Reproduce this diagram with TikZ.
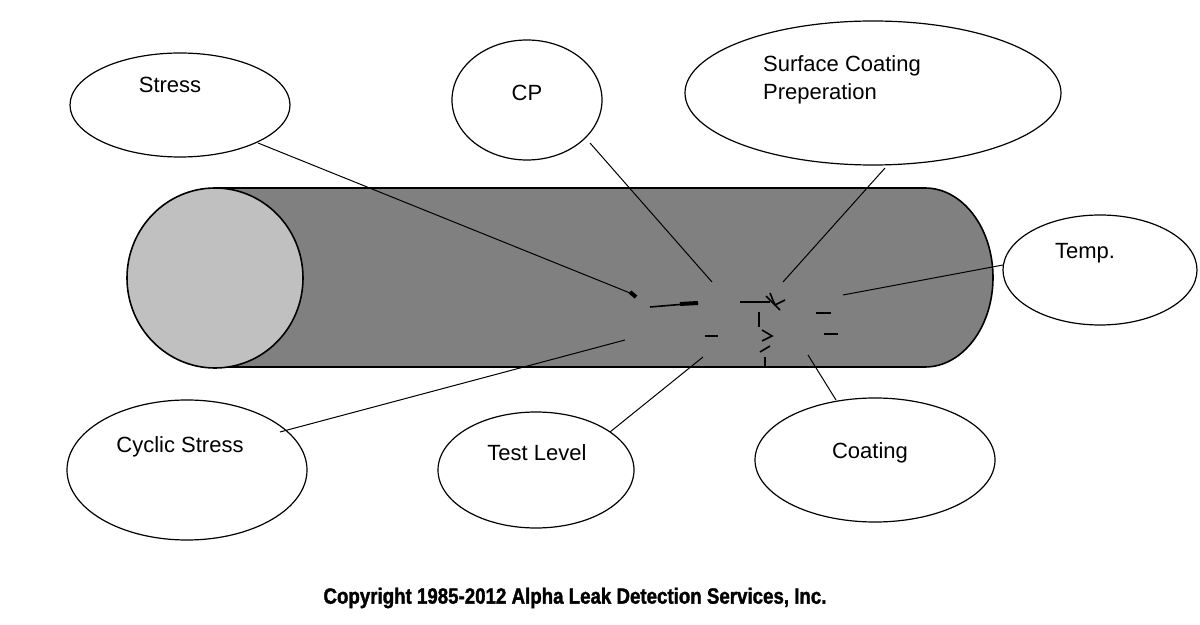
\documentclass[tikz,border=0pt]{standalone}
\usepackage{fontspec}
\setmainfont{Liberation Sans}
\usetikzlibrary{shapes.geometric}
\begin{document}
\begin{tikzpicture}[x=0.5pt,y=-0.5pt,
  bub/.style={draw=black,fill=white,line width=0.6pt,inner sep=0pt},
  lbl/.style={font=\fontsize{11}{14}\selectfont,align=left},
  conn/.style={line width=0.5pt},
  crk/.style={line width=0.8pt}]
\useasboundingbox (0,0) rectangle (1200,625);
% pipe
\fill[fill={rgb,255:red,128;green,128;blue,128}] (215,188) -- (925,188) arc[start angle=90,end angle=-90,x radius=34pt,y radius=44.75pt] -- (215,367) -- cycle;
\draw[line width=0.8pt] (215,188) -- (925,188) arc[start angle=90,end angle=-90,x radius=34pt,y radius=44.75pt] -- (215,367);
\draw[line width=0.8pt,fill={rgb,255:red,192;green,192;blue,192}] (215,278) ellipse[x radius=44pt,y radius=45pt];
% cracks
\draw[crk] (650,307)--(698,303); \draw[line width=2pt] (680,304)--(698,303);
\draw[crk] (740,302)--(770,302);
\draw[crk] (770,293)--(775,305)--(785,300); \draw[crk] (766,296)--(780,310);
\draw[crk] (759,312)--(759,327); \draw[crk] (762,330)--(772,336)--(762,341);
\draw[crk] (760,352)--(770,346); \draw[crk] (765,357)--(765,367);
\draw[crk] (816,313)--(831,313); \draw[crk] (824,334)--(838,334);
\draw[crk] (705,336)--(718,336);
% bubbles
\node[bub,ellipse,minimum width=110pt,minimum height=52pt] (stress) at (180,105) {};
\node[bub,ellipse,minimum width=75pt,minimum height=60pt] (cp) at (527,100) {};
\node[bub,ellipse,minimum width=188pt,minimum height=72pt] (surf) at (873,93) {};
\node[bub,ellipse,minimum width=97pt,minimum height=55pt] (temp) at (1100,270) {};
\node[bub,ellipse,minimum width=120pt,minimum height=70pt] (cyc) at (187,470) {};
\node[bub,ellipse,minimum width=98pt,minimum height=58pt] (test) at (536,470) {};
\node[bub,ellipse,minimum width=120pt,minimum height=62pt] (coat) at (875,460) {};
\node[lbl] (t1) at (170,85) {Stress};
\node[lbl] (t2) at (527,93) {CP};
\node[lbl] (t3) at (842,80) {Surface Coating\\Preperation};
\node[lbl] (t4) at (1085,253) {Temp.};
\node[lbl] (t5) at (180,447) {Cyclic Stress};
\node[lbl] (t6) at (537,453) {Test Level};
\node[lbl] (t7) at (870,453) {Coating};
% connector ends
\coordinate (e1) at (635,295); \coordinate (e2) at (712,282);
\coordinate (e3) at (783,282); \coordinate (e4) at (843,295);
\coordinate (e5) at (625,340); \coordinate (e6) at (703,357);
\coordinate (e7) at (808,355);
\draw[conn] (258,143) -- (e1); \draw[line width=2pt] (630,292)--(636,297);
\draw[conn] (590,143) -- (e2);
\draw[conn] (885,168) -- (e3);
\draw[conn] (1003,265) -- (e4);
\draw[conn] (280,432) -- (e5);
\draw[conn] (610,432) -- (e6);
\draw[conn] (836,400) -- (e7);
\node (copy) at (575,598) {\fontsize{11}{13}\selectfont\bfseries\addfontfeatures{FakeStretch=0.85,FakeBold=1.5}Copyright 1985-2012 Alpha Leak Detection Services, Inc.};
\end{tikzpicture}
\end{document}
